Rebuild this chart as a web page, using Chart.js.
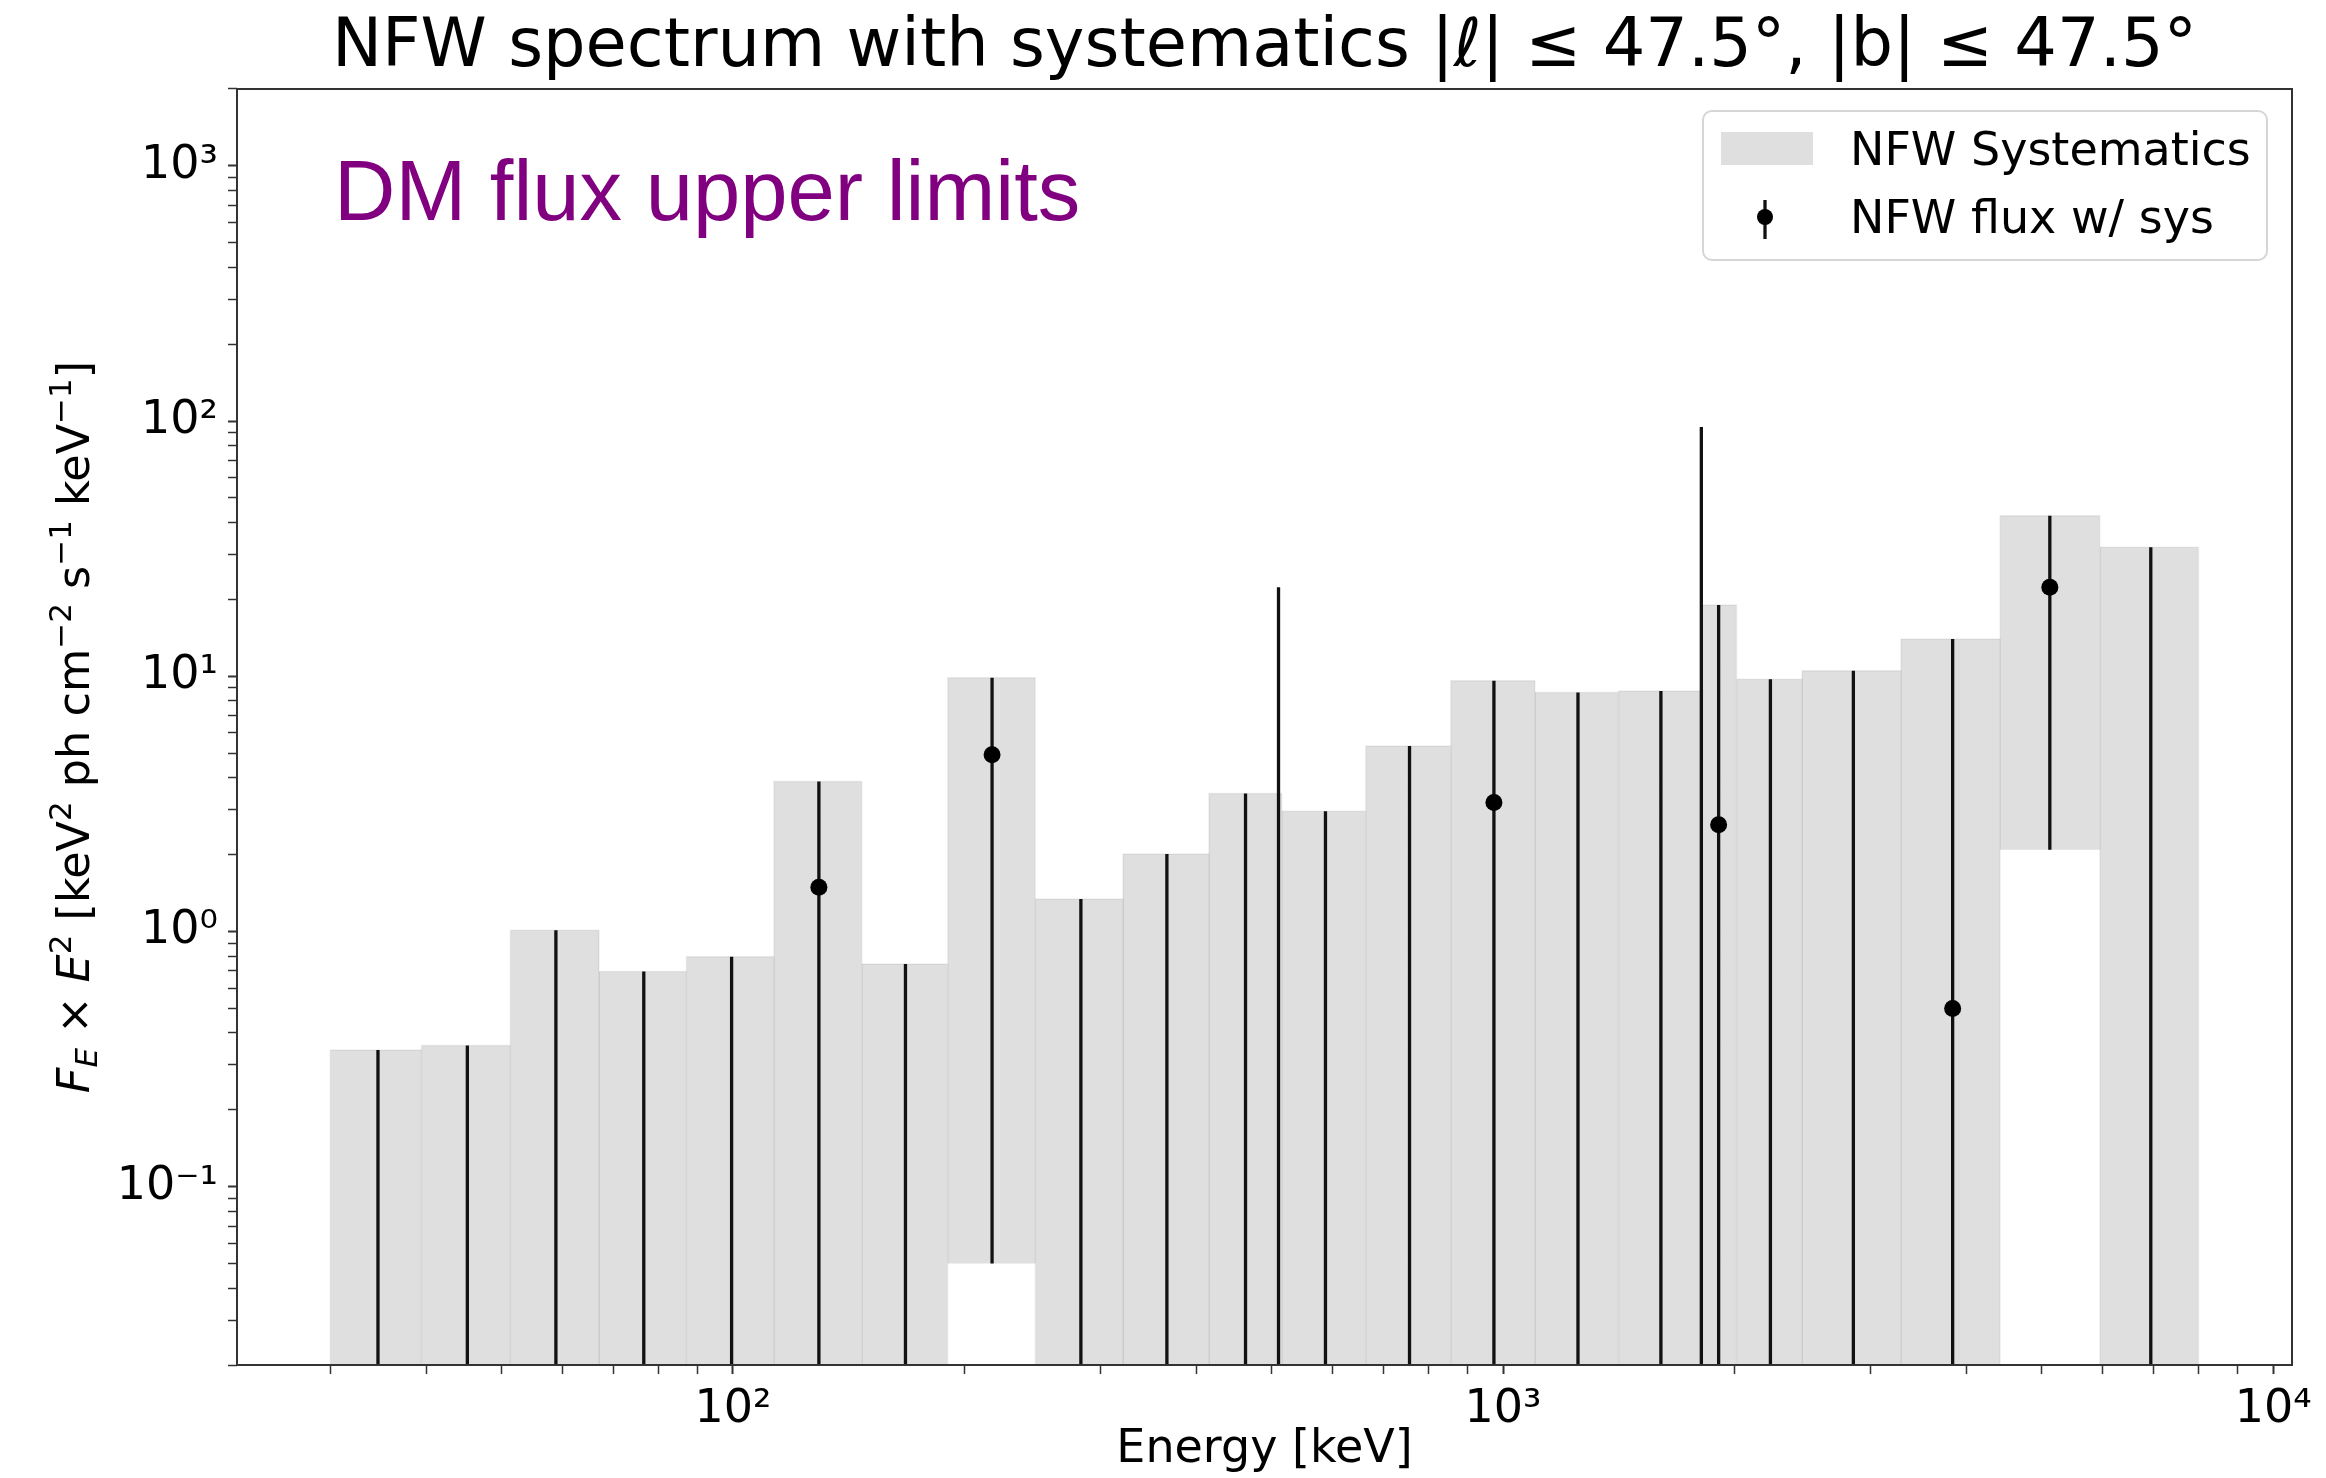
<!DOCTYPE html>
<html lang="en">
<head>
<meta charset="UTF-8">
<title>NFW spectrum with systematics</title>
<script src="https://cdn.jsdelivr.net/npm/chart.js"></script>
<style>
    html, body { margin: 0; padding: 0; background: #fff; }
    #wrap { width: 2326px; height: 1478px; }
</style>
</head>
<body>
<div id="wrap"><canvas id="chart"></canvas></div>

<script>
    // energy bins [keV]
    const binEdges = [30, 39.4, 51.4, 67, 87, 113, 147, 190, 247, 321, 415, 516, 663, 855, 1100, 1412, 1815, 2010, 2445, 3285, 4420, 5955, 8000];
    const binCenters = [34.6, 45.2, 58.9, 76.6, 99.6, 129.3, 167.5, 217, 283, 366, 463, 588, 756, 973, 1251, 1603, 1905, 2224, 2850, 3835, 5128, 6935];

    // systematics band (null lower = runs off the bottom of the plot)
    const sysUpper = [0.343, 0.357, 1.01, 0.697, 0.796, 3.87, 0.745, 9.87, 1.34, 2.01, 3.47, 2.96, 5.33, 9.6, 8.63, 8.75, 19.0, 9.73, 10.5, 14.0, 42.5, 32.0];
    const sysLower = [null, null, null, null, null, null, null, 0.05, null, null, null, null, null, null, null, null, null, null, null, null, 2.09, null];

    // flux points with errors
    const fluxValue = [null, null, null, null, null, 1.49, null, 4.92, null, null, null, null, null, 3.2, null, null, 2.62, null, null, 0.499, 22.3, null];
    const fluxUpper = [0.343, 0.357, 1.01, 0.697, 0.796, 3.87, 0.745, 9.87, 1.34, 2.01, 3.47, 2.96, 5.33, 9.6, 8.63, 8.75, 19.0, 9.73, 10.5, 14.0, 42.5, 32.0];
    const fluxLower = [null, null, null, null, null, null, null, 0.05, null, null, null, null, null, null, null, null, null, null, null, null, 2.09, null];

    // line bins (511 keV, 26Al)
    const lineEnergy = [511, 1809];
    const lineUpper = [22.3, 94.8];

    const xTickValues = [100, 1000, 10000];
    const xTickText = ['10²', '10³', '10⁴'];
    const yTickValues = [0.1, 1, 10, 100, 1000];
    const yTickText = ['10⁻¹', '10⁰', '10¹', '10²', '10³'];

    const FLOOR = 1e-4;   // below the axis, gets clipped
    const GREY = '#dfdfdf';
    const FONT = 'DejaVu Sans';

    const datasets = [];

    binCenters.forEach((c, i) => {
        const lo = binEdges[i], hi = binEdges[i + 1];
        const bot = sysLower[i] === null ? FLOOR : sysLower[i];
        datasets.push({
            type: 'line',
            data: [{x: lo, y: bot}, {x: lo, y: sysUpper[i]}, {x: hi, y: sysUpper[i]}, {x: hi, y: bot}],
            fill: {value: bot},
            backgroundColor: GREY,
            borderColor: 'rgba(0,0,0,0.06)',
            borderWidth: 1.5,
            pointRadius: 0,
            tension: 0,
            order: 3
        });
    });

    const errData = [];
    binCenters.forEach((c, i) => {
        errData.push({x: c, y: fluxLower[i] === null ? FLOOR : fluxLower[i]});
        errData.push({x: c, y: fluxUpper[i]});
        errData.push({x: c, y: null});
    });
    lineEnergy.forEach((e, i) => {
        errData.push({x: e, y: FLOOR});
        errData.push({x: e, y: lineUpper[i]});
        errData.push({x: e, y: null});
    });
    datasets.push({
        type: 'line',
        data: errData,
        borderColor: '#111',
        borderWidth: 3.3,
        pointRadius: 0,
        spanGaps: false,
        fill: false,
        order: 2
    });

    datasets.push({
        type: 'scatter',
        data: binCenters.map((c, i) => ({x: c, y: fluxValue[i]})).filter(p => p.y !== null),
        backgroundColor: '#000',
        borderWidth: 0,
        pointRadius: 8.5,
        order: 1
    });

    function decadeTicks(scale) {
        const ticks = [];
        const e0 = Math.floor(Math.log10(scale.min)), e1 = Math.ceil(Math.log10(scale.max));
        for (let e = e0; e <= e1; e++) {
            for (let k = 1; k < 10; k++) {
                const v = k * Math.pow(10, e);
                if (v >= scale.min * 0.9999 && v <= scale.max * 1.0001) ticks.push({value: v, major: k === 1});
            }
        }
        scale.ticks = ticks;
    }

    function labelFor(values, texts) {
        return (v) => {
            const i = values.findIndex(t => Math.abs(t - v) / t < 1e-6);
            return i < 0 ? '' : texts[i];
        };
    }

    const tickWidth = (ctx) => (ctx.tick && ctx.tick.major) ? 2 : 1.5;

    const decor = {
        id: 'decor',
        afterDraw(chart) {
            const {ctx, chartArea: a} = chart;
            ctx.save();

            // frame
            ctx.strokeStyle = '#333';
            ctx.lineWidth = 2;
            ctx.strokeRect(a.left, a.top, a.right - a.left, a.bottom - a.top);

            // annotation
            ctx.fillStyle = '#800080';
            ctx.font = '85px "Liberation Sans"';
            ctx.textAlign = 'left';
            ctx.textBaseline = 'alphabetic';
            ctx.fillText('DM flux upper limits', a.left + 97, a.top + 131);

            // legend
            const w = 564, h = 149;
            const lx = a.right - 25 - w, ly = a.top + 22;
            ctx.beginPath();
            ctx.roundRect(lx, ly, w, h, 9);
            ctx.fillStyle = 'rgba(255,255,255,0.8)';
            ctx.fill();
            ctx.strokeStyle = '#d6d6d6';
            ctx.lineWidth = 2;
            ctx.stroke();

            ctx.fillStyle = GREY;
            ctx.fillRect(lx + 18, ly + 21, 92, 33);

            ctx.strokeStyle = '#111';
            ctx.lineWidth = 3.3;
            ctx.beginPath();
            ctx.moveTo(lx + 62, ly + 89);
            ctx.lineTo(lx + 62, ly + 128);
            ctx.stroke();
            ctx.fillStyle = '#000';
            ctx.beginPath();
            ctx.arc(lx + 62, ly + 106, 8, 0, Math.PI * 2);
            ctx.fill();

            ctx.font = '46px "' + FONT + '"';
            ctx.fillStyle = '#000';
            ctx.fillText('NFW Systematics', lx + 147, ly + 54);
            ctx.fillText('NFW flux w/ sys', lx + 147, ly + 122);

            // y axis title with sub/superscripts
            const runs = [
                {t: 'F', it: true}, {t: 'E', it: true, sub: true}, {t: ' × '}, {t: 'E', it: true},
                {t: '2', sup: true}, {t: ' [keV'}, {t: '2', sup: true}, {t: ' ph cm'}, {t: '−2', sup: true},
                {t: ' s'}, {t: '−1', sup: true}, {t: ' keV'}, {t: '−1', sup: true}, {t: ']'}
            ];
            const big = 44.5, small = 31;
            const fontOf = r => (r.it ? 'italic ' : '') + (r.sub || r.sup ? small : big) + 'px "' + FONT + '"';
            let total = 0;
            runs.forEach(r => { ctx.font = fontOf(r); r.w = ctx.measureText(r.t).width; total += r.w; });
            ctx.translate(89, (a.top + a.bottom) / 2);
            ctx.rotate(-Math.PI / 2);
            let x = -total / 2;
            runs.forEach(r => {
                ctx.font = fontOf(r);
                const dy = r.sup ? -18 : (r.sub ? 8 : 0);
                ctx.fillText(r.t, x, dy);
                x += r.w;
            });

            ctx.restore();
        }
    };

    new Chart(document.getElementById('chart'), {
        type: 'line',
        data: {datasets: datasets},
        options: {
            responsive: true,
            maintainAspectRatio: false,
            animation: false,
            events: [],
            layout: {padding: {top: 0, right: 34, bottom: 0, left: 0}},
            scales: {
                x: {
                    type: 'logarithmic',
                    position: 'bottom',
                    min: 22.7,
                    max: 10578,
                    afterBuildTicks: decadeTicks,
                    afterFit: (s) => { s.height = 113; },
                    border: {display: false},
                    grid: {drawOnChartArea: false, drawTicks: true, tickLength: 9, tickColor: '#333', tickWidth: tickWidth},
                    ticks: {
                        autoSkip: false, maxRotation: 0, padding: 8, color: '#000',
                        font: {family: FONT, size: 46},
                        callback: labelFor(xTickValues, xTickText)
                    },
                    title: {
                        display: true, text: 'Energy [keV]', color: '#000',
                        font: {family: FONT, size: 46}, padding: {top: 0, bottom: 0}
                    }
                },
                y: {
                    type: 'logarithmic',
                    position: 'left',
                    min: 0.02,
                    max: 2000,
                    afterBuildTicks: decadeTicks,
                    afterFit: (s) => { s.width = 237; },
                    border: {display: false},
                    grid: {drawOnChartArea: false, drawTicks: true, tickLength: 9, tickColor: '#333', tickWidth: tickWidth},
                    ticks: {
                        autoSkip: false, padding: 10, color: '#000',
                        font: {family: FONT, size: 46},
                        callback: labelFor(yTickValues, yTickText)
                    }
                }
            },
            plugins: {
                legend: {display: false},
                tooltip: {enabled: false},
                title: {
                    display: true,
                    fullSize: false,
                    text: 'NFW spectrum with systematics |ℓ| ≤ 47.5°, |b| ≤ 47.5°',
                    color: '#000',
                    font: {family: FONT, size: 67, weight: 'normal'},
                    padding: {top: 8.6, bottom: 0}
                }
            }
        },
        plugins: [decor]
    });
</script>
</body>
</html>
